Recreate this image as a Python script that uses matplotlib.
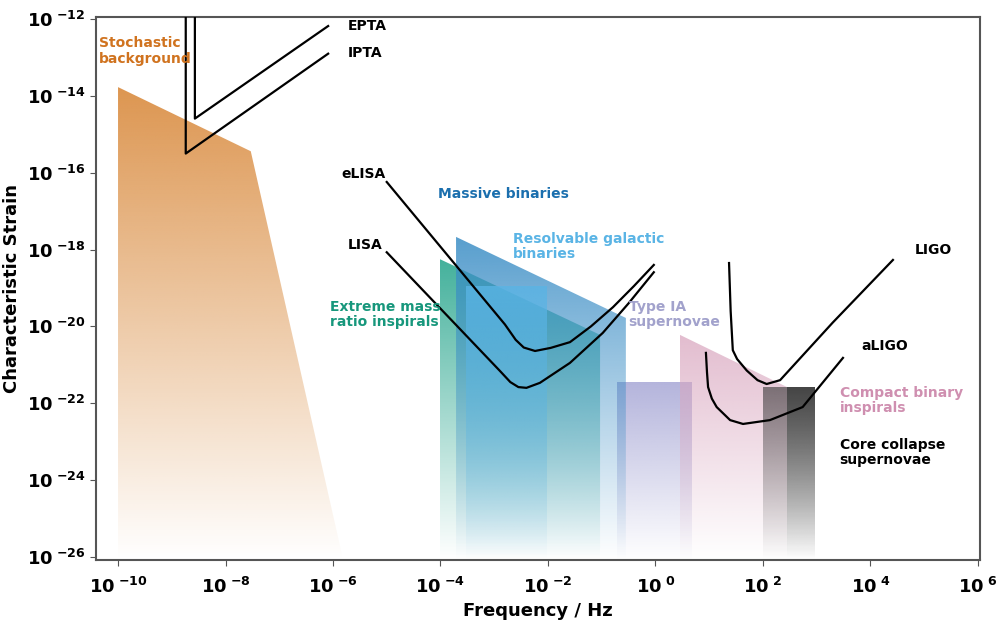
#!/usr/bin/env python3

"""Render the gravitational-wave detector sensitivity chart (characteristic
strain against frequency) with gradient-filled source regions."""

import numpy as np
import matplotlib

matplotlib.use("Agg")  # headless / no display
import matplotlib.pyplot as plt
from matplotlib.patches import Polygon
from matplotlib.colors import to_rgb

FRAME_COLOR = "#555555"

# Source regions, log10(frequency) and log10(strain) of each outline.
STOCH_X = [-10.0, -7.53, -5.81, -10.0]
STOCH_Y = [-13.77, -15.44, -26.08, -26.08]
EMRI_X = [-4.01, -1.03, -1.03, -4.01]
EMRI_Y = [-18.25, -20.22, -26.08, -26.08]
MASSIVE_X = [-3.71, -0.55, -0.55, -3.71]
MASSIVE_Y = [-17.67, -19.78, -26.08, -26.08]
GALACTIC_X = [-3.53, -2.02, -2.02, -3.53]
GALACTIC_Y = [-18.95, -18.95, -26.08, -26.08]
SN1A_X = [-0.72, 0.68, 0.68, -0.72]
SN1A_Y = [-21.45, -21.45, -26.08, -26.08]
CBI_X = [0.455, 2.45, 2.45, 0.455]
CBI_Y = [-20.22, -21.58, -26.08, -26.08]
CORE_X = [2.0, 2.97, 2.97, 2.0]
CORE_Y = [-21.58, -21.58, -26.08, -26.08]
CORE_DARK_X = [2.45, 2.97, 2.97, 2.45]

# Detector sensitivity curves.
EPTA_X = [-8.57, -8.57, -6.09]
EPTA_Y = [-11.9, -14.59, -12.18]
IPTA_X = [-8.74, -8.74, -6.09]
IPTA_Y = [-11.9, -15.5, -12.9]
ELISA_X = [-5.0, -2.8, -2.6, -2.45, -2.24, -1.95, -1.59, -1.2, -0.79,
           -0.4, -0.03]
ELISA_Y = [-16.24, -19.95, -20.35, -20.55, -20.64, -20.56, -20.41, -20.0,
           -19.5, -18.95, -18.4]
LISA_X = [-5.0, -2.9, -2.7, -2.55, -2.4, -2.15, -1.59, -0.98, -0.5, -0.03]
LISA_Y = [-18.07, -21.15, -21.45, -21.58, -21.6, -21.47, -20.95, -20.17,
          -19.4, -18.59]
LIGO_X = [1.37, 1.40, 1.44, 1.52, 1.7, 1.9, 2.07, 2.32, 3.3, 4.42]
LIGO_Y = [-18.35, -19.6, -20.62, -20.85, -21.15, -21.4, -21.5, -21.4,
          -19.9, -18.27]
ALIGO_X = [0.94, 0.96, 0.98, 1.05, 1.14, 1.39, 1.63, 2.13, 2.74, 3.49]
ALIGO_Y = [-20.69, -21.2, -21.58, -21.88, -22.1, -22.44, -22.54, -22.44,
           -22.1, -20.82]

X_TICKS = [-10, -8, -6, -4, -2, 0, 2, 4, 6]
Y_TICKS = [-12, -14, -16, -18, -20, -22, -24, -26]


def gradient_fill(ax, xs, ys, color, top_alpha=0.85, zorder=2):
    """Fill a polygon with a colour fading to transparent towards the bottom."""
    x0, x1 = min(xs), max(xs)
    y0, y1 = min(ys), max(ys)
    rgb = to_rgb(color)
    img = np.zeros((256, 2, 4))
    img[:, :, :3] = rgb
    img[:, :, 3] = np.linspace(top_alpha, 0.0, 256)[:, None]
    im = ax.imshow(img, extent=(x0, x1, y0, y1), origin="upper",
                   aspect="auto", interpolation="bilinear", zorder=zorder)
    poly = Polygon(list(zip(xs, ys)), closed=True, facecolor="none",
                   edgecolor="none")
    ax.add_patch(poly)
    im.set_clip_path(poly)


def tick_label(v):
    return r"$\mathbf{10}^{\ \mathbf{%d}}$" % v


def plot(out_path):
    fig = plt.figure(figsize=(10, 6.37), dpi=100)
    ax = fig.add_axes((0.096, 0.121, 0.884, 0.852))

    gradient_fill(ax, STOCH_X, STOCH_Y, "#d98a3d", 0.9)
    gradient_fill(ax, EMRI_X, EMRI_Y, "#22a38a", 0.85)
    gradient_fill(ax, MASSIVE_X, MASSIVE_Y, "#3a8dc5", 0.85, zorder=3)
    gradient_fill(ax, GALACTIC_X, GALACTIC_Y, "#5ab4e5", 0.8, zorder=4)
    gradient_fill(ax, SN1A_X, SN1A_Y, "#a7a7d6", 0.85)
    gradient_fill(ax, CBI_X, CBI_Y, "#d9a6bf", 0.75)
    gradient_fill(ax, CORE_X, CORE_Y, "#333333", 0.6, zorder=3)
    gradient_fill(ax, CORE_DARK_X, CORE_Y, "#111111", 0.55, zorder=3)

    for xs, ys in [(EPTA_X, EPTA_Y), (IPTA_X, IPTA_Y), (ELISA_X, ELISA_Y),
                   (LISA_X, LISA_Y), (LIGO_X, LIGO_Y), (ALIGO_X, ALIGO_Y)]:
        ax.plot(xs, ys, color="black", linewidth=1.6, zorder=6,
                solid_joinstyle="round")

    kw = dict(fontsize=10, fontweight="bold", zorder=7)
    ax.text(-10.35, -12.45, "Stochastic\nbackground", color="#d0731f",
            va="top", linespacing=1.1, **kw)
    ax.text(-5.73, -12.18, "EPTA", va="center", **kw)
    ax.text(-5.73, -12.88, "IPTA", va="center", **kw)
    ax.text(-5.84, -16.02, "eLISA", va="center", **kw)
    ax.text(-5.73, -17.87, "LISA", va="center", **kw)
    ax.text(-4.05, -16.55, "Massive binaries", color="#1b6fae", va="center",
            **kw)
    ax.text(-2.65, -17.55, "Resolvable galactic\nbinaries", color="#5ab4e5",
            va="top", linespacing=1.1, **kw)
    ax.text(-6.06, -19.3, "Extreme mass\nratio inspirals", color="#17977c",
            va="top", linespacing=1.1, **kw)
    ax.text(-0.5, -19.3, "Type IA\nsupernovae", color="#a2a2cc",
            va="top", linespacing=1.1, **kw)
    ax.text(4.83, -18.0, "LIGO", va="center", **kw)
    ax.text(3.83, -20.5, "aLIGO", va="center", **kw)
    ax.text(3.43, -21.55, "Compact binary\ninspirals", color="#cf8fb0",
            va="top", linespacing=1.1, **kw)
    ax.text(3.43, -22.9, "Core collapse\nsupernovae", va="top",
            linespacing=1.1, **kw)

    ax.set_xlim(-10.41, 6.04)
    ax.set_ylim(-26.08, -11.95)
    ax.set_xticks(X_TICKS)
    ax.set_xticklabels([tick_label(v) for v in X_TICKS], fontsize=13)
    ax.set_yticks(Y_TICKS)
    ax.set_yticklabels([tick_label(v) for v in Y_TICKS], fontsize=13)
    ax.tick_params(colors=FRAME_COLOR, labelcolor="black", length=4)
    ax.tick_params(axis="x", pad=8)
    for spine in ax.spines.values():
        spine.set_color(FRAME_COLOR)
        spine.set_linewidth(1.5)
    ax.set_xlabel("Frequency / Hz", fontsize=13, fontweight="bold")
    ax.set_ylabel("Characteristic Strain", fontsize=13, fontweight="bold")

    fig.savefig(out_path, dpi=100)
    plt.close(fig)


def main():
    plot("out.png")


if __name__ == "__main__":
    main()
